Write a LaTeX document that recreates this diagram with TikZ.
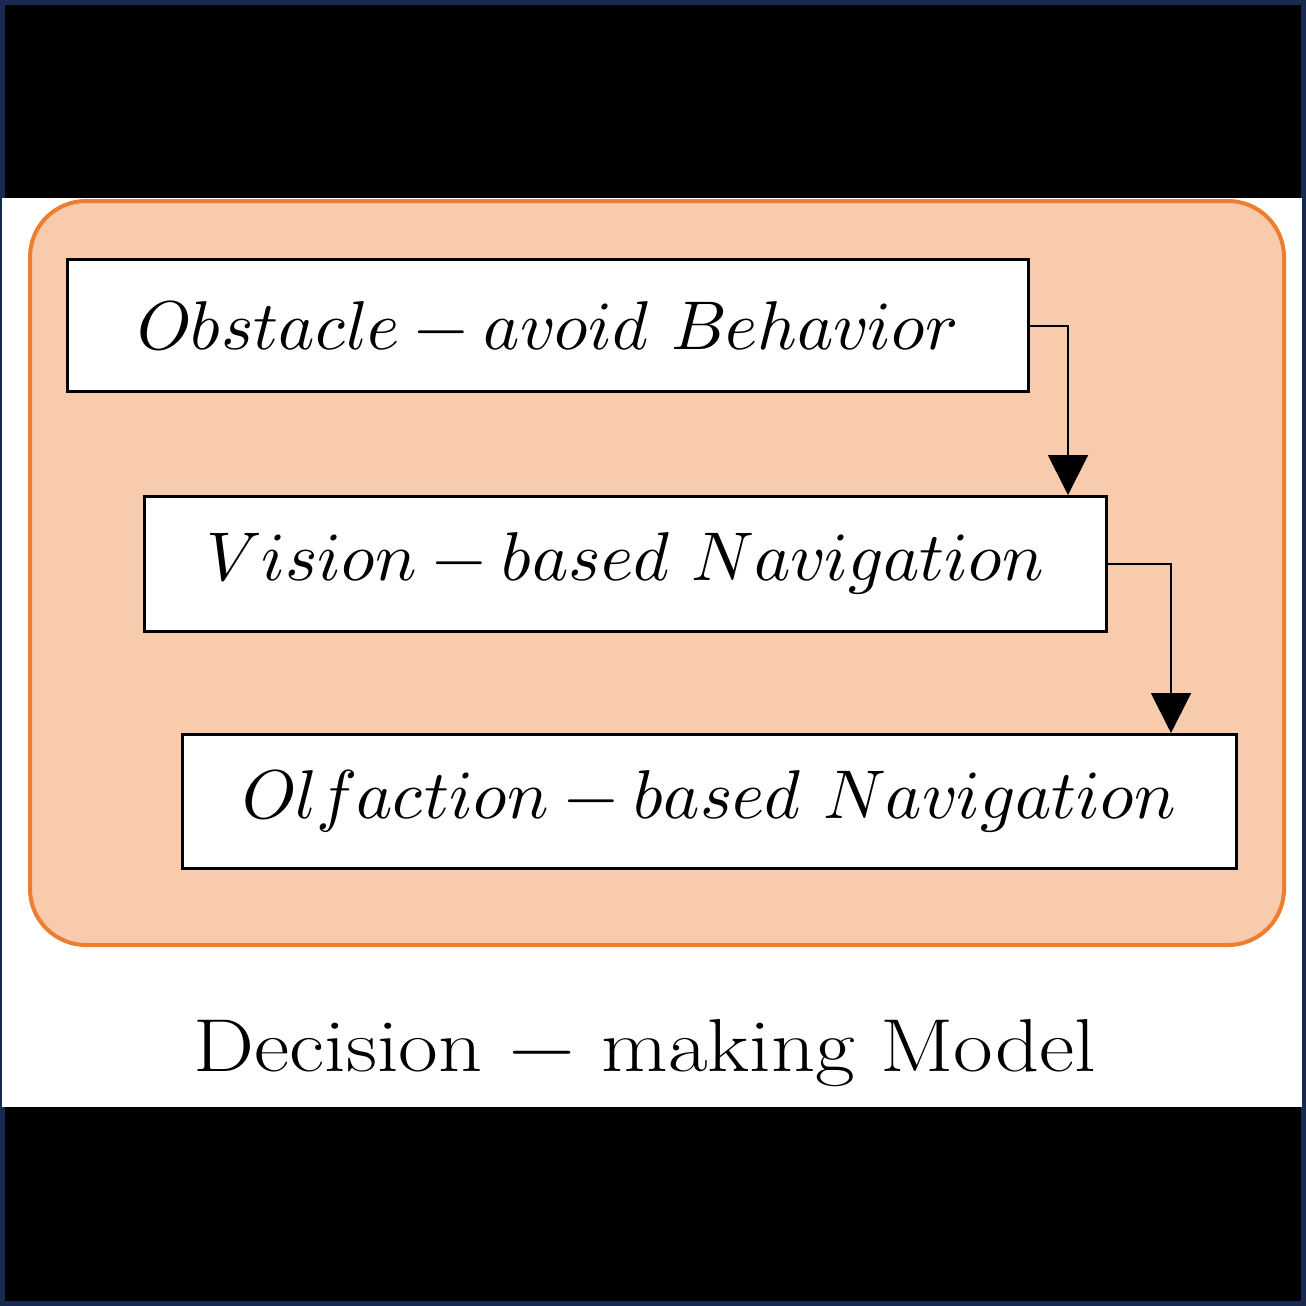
\documentclass[tikz,border=0pt]{standalone}
\usepackage{xcolor}
\usepackage{unicode-math}
\setmathfont{Latin Modern Math}
\usetikzlibrary{positioning}
\usetikzlibrary{arrows.meta}
\definecolor{frameblue}{RGB}{23,42,82}
\definecolor{modelfill}{RGB}{248,203,173}
\definecolor{modeledge}{RGB}{237,125,49}
\tikzset{behav/.style = {draw, line width=3pt, fill=white, anchor=north west,
                         inner sep=0pt, font=\fontsize{69}{80}\selectfont}}
\tikzset{flow/.style = {-{Triangle[width=40pt,length=40pt]}, line width=2pt}}
\tikzset{caption/.style = {font=\fontsize{75}{88}\selectfont}}

\begin{document}
\begin{tikzpicture}[x=1pt, y=-1pt]
    \useasboundingbox (0,0) rectangle (1306,1306);
    \fill[frameblue] (0,0) rectangle (1306,1306);
    \fill[black] (5,5) rectangle (1301,1301);
    \fill[white] (2,198) rectangle (1302,1107);
    \draw[modeledge, fill=modelfill, line width=4pt, rounded corners=56pt]
        (30,201) rectangle (1284,945);
    \node[behav, minimum width=961pt, minimum height=132pt] (obst) at (66,258)
        {$Obstacle - avoid\ Behavior$};
    \node[behav, minimum width=962pt, minimum height=135pt] (vision) at (143,495)
        {$Vision - based\ Navigation$};
    \node[behav, minimum width=1054pt, minimum height=134pt] (olf) at (181,733)
        {$Olfaction - based\ Navigation$};
    \draw[flow] (obst.east) -| ([xshift=-40pt]vision.north east);
    \draw[flow] (vision.east) -| ([xshift=-67pt]olf.north east);
    \node[caption] (model) at (645,1053) {\scalebox{1.15}[1]{Decision $-$ making Model}};
  \end{tikzpicture}
\end{document}
